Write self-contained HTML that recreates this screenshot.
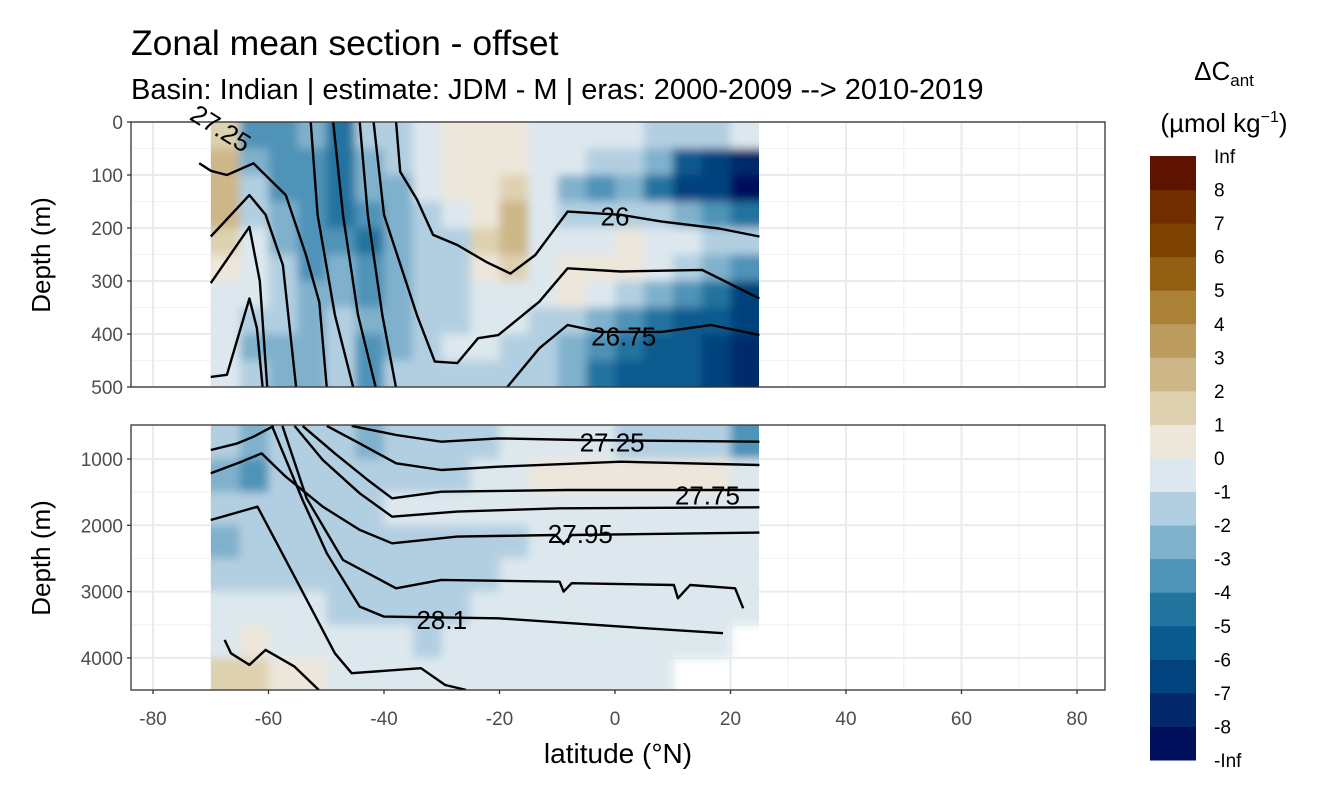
<!DOCTYPE html>
<html><head><meta charset="utf-8"><style>
body{margin:0;background:#fff;font-family:"Liberation Sans",sans-serif}
svg text{font-family:"Liberation Sans","DejaVu Sans",sans-serif}
</style></head><body>
<svg id="chart" width="1344" height="806" viewBox="0 0 1344 806">
<defs>
<filter id="blurT" filterUnits="userSpaceOnUse" x="211" y="122" width="548" height="265"><feGaussianBlur stdDeviation="4.5" edgeMode="duplicate"/></filter>
<filter id="blurB" filterUnits="userSpaceOnUse" x="211" y="425" width="548" height="265"><feGaussianBlur stdDeviation="4.5" edgeMode="duplicate"/></filter>
</defs>
<text x="131" y="55" font-size="35.5" fill="#000">Zonal mean section - offset</text>
<text x="131" y="99" font-size="29" fill="#000">Basin: Indian | estimate: JDM - M | eras: 2000-2009 --&gt; 2010-2019</text>
<g id="top"></g>
<g id="bot"></g>
<g id="xaxis"></g>
<text x="618" y="763" font-size="28" text-anchor="middle">latitude (°N)</text>
<text transform="translate(50,255) rotate(-90)" font-size="26" text-anchor="middle">Depth (m)</text>
<text transform="translate(50,558) rotate(-90)" font-size="26" text-anchor="middle">Depth (m)</text>
<g id="legend">
<text x="1224" y="80" font-size="26" text-anchor="middle">ΔC<tspan font-size="17" dy="6">ant</tspan></text>
<text x="1224" y="132" font-size="26" text-anchor="middle">(µmol kg<tspan font-size="16" dy="-10">−1</tspan><tspan dy="10">)</tspan></text>
</g>
</svg>
<script>
const NS="http://www.w3.org/2000/svg";
const breaks=[-Infinity,-8,-7,-6,-5,-4,-3,-2,-1,0,1,2,3,4,5,6,7,8,Infinity];
const binLabels=["-Inf","-8","-7","-6","-5","-4","-3","-2","-1","0","1","2","3","4","5","6","7","8","Inf"];
const palette=["#020f5c","#03296b","#02427e","#0a5a8f","#23739f","#4f93b8","#80b1cc","#b2cfe1","#dde8ee","#ede6da","#ded1b0","#cdb688","#bc9b5f","#ab8238","#935f12","#7e4300","#712c00","#5e1300"];
const xTicks=[-80,-60,-40,-20,0,20,40,60,80];
const topTicks=[0,100,200,300,400,500];
const botTicks=[1000,2000,3000,4000];
const latCells=[-70,-65,-60,-55,-50,-45,-40,-35,-30,-25,-20,-15,-10,-5,0,5,10,15,20];
const topDepths=[0,50,100,150,200,250,300,350,400,450];
const botDepths=[500,1000,1500,2000,2500,3000,3500,4000];
const topVals=[
[1.5,2.5,2.5,2,1,0.5,-0.5,-1,-0.5,-1],
[-4,-3,-2,-1.5,-1,-0.5,-1,-2,-3,-2],
[-4,-4,-3.5,-3,-2.5,-2,-2,-2,-3,-3],
[-3,-4,-4,-4,-4,-3.5,-3,-3,-3,-2.5],
[-4.5,-5,-5,-5,-4,-3,-2.5,-2,-2,-2],
[-2,-2.5,-3,-4,-4.5,-4,-3.5,-3,-3.5,-3.5],
[-2,-2,-2.5,-3,-3,-3,-2.5,-2.5,-3,-2],
[-0.5,-0.5,-1,-1.5,-1.5,-1.5,-1.5,-1.5,-1.5,-1.5],
[0.5,0.5,0.5,-1,-1.5,-1.5,-1.5,-1.5,-1,-1.5],
[0.5,0.5,0.5,0.5,1.5,0.5,-1,-0.5,-1,-1.5],
[0.5,0.5,1.5,2.5,2.5,1.5,-0.5,-0.5,-1.5,-1.5],
[-0.5,-0.5,-1,-1,-0.5,-0.5,-1,-1.5,-2,-2],
[-0.5,-1,-3,-2,-1,0.5,0.5,-1.5,-2.5,-3],
[-1,-1.5,-3.5,-2,-0.5,0.5,-1,-3,-4,-4.5],
[-1,-2,-2.5,-1.5,0.5,0.5,-2,-3.5,-5,-5.5],
[-1.5,-3,-5,-2,-0.5,-1,-3,-5,-5.5,-5.5],
[-1.5,-5.5,-6.5,-3,-1,-1.5,-4,-5.5,-6,-6],
[-1.5,-6.5,-7,-4,-1.5,-3,-5,-6,-6.5,-6.5],
[-1,-7.5,-8.5,-5,-2,-4,-6.5,-7,-7.5,-7.5]];
const botVals=[
[-2,-3,-2,-2.5,-1.5,-1,-0.5,1.5],
[-2.5,-3.5,-2,-2,-1.5,-1,0.5,1.5],
[-2,-2,-2,-1.5,-1.5,-1,-0.5,0.5],
[-2,-1.5,-1.5,-1.5,-1.5,-1,-0.5,0.5],
[-2,-1.5,-1.5,-1.5,-1.5,-1.5,-0.5,-0.5],
[-2.5,-1.5,-1.5,-1.5,-1.5,-1.5,-0.5,-0.5],
[-2,-1.5,-1,-1.5,-1.5,-1.5,-0.5,-0.5],
[-2,-1.5,-1,-1.5,-1.5,-1.5,-1.5,-0.5],
[-1.5,-1.5,-1,-1.5,-1.5,-1.5,-0.5,-0.5],
[-1.5,-1,-0.5,-1.5,-1.5,-0.5,-0.5,-0.5],
[-1,-0.5,-0.5,-1.5,-0.5,-0.5,-0.5,-0.5],
[-1,0.5,-0.5,-0.5,-0.5,-0.5,-0.5,-0.5],
[-1,0.5,-0.5,-0.5,-0.5,-0.5,-0.5,-0.5],
[-1,0.5,-0.5,-0.5,-0.5,-0.5,-0.5,-0.5],
[-1.5,0.5,-0.5,-0.5,-0.5,-0.5,-0.5,-0.5],
[-1.5,0.5,-0.5,-0.5,-0.5,-0.5,-0.5,-0.5],
[-1.5,0.5,-0.5,-0.5,-0.5,-0.5,-0.5,null],
[-2,0.5,-0.5,-0.5,-0.5,-0.5,-0.5,null],
[-3.5,-0.5,-0.5,-0.5,-0.5,-0.5,null,null]];
const topLines=[
{lat:[-72,-70,-67.2,-62.6,-57.0,-53.5,-51.2,-49.9],dep:[78,92,100,78,138,251,340,502]},
{lat:[-70,-63.3,-60.5,-57.5,-55.2],dep:[216,138,175,270,502]},
{lat:[-70,-63.3,-61.5,-60.2],dep:[304,198,300,502]},
{lat:[-70,-67.2,-63.3,-62.0,-61.0],dep:[481,477,333,389,502]},
{lat:[-52.7,-51.5,-48.5,-45.3],dep:[0,175,364,502]},
{lat:[-48.8,-47.1,-44.5,-41.4],dep:[0,175,364,502]},
{lat:[-44.2,-42.8,-40.3,-37.9],dep:[0,175,364,502]},
{lat:[-41.8,-40.0,-34.3,-31.2,-27.3,-23.7,-20.2,-13.1,-8.2,1.0,15.1,25],dep:[0,175,364,452,455,408,402,339,276,282,279,333]},
{lat:[-37.9,-37.2,-34.3,-31.5,-27.3,-22.3,-18.1,-13.8,-8.2,1.0,8.1,18.0,25],dep:[0,94,146,213,232,264,286,251,169,175,188,201,216]},
{lat:[-18.8,-13.1,-8.2,-2.5,8.1,16.6,25],dep:[502,427,383,396,396,383,402]}];
const botLines=[
{lat:[-70,-65.4,-62.6,-59.1],dep:[864,764,663,500]},
{lat:[-45.6,-37.9,-30.1,-20.2,-6.1,25],dep:[500,638,739,689,714,739]},
{lat:[-49.9,-44.2,-37.9,-30.1,-20.2,1.0,25],dep:[500,764,1065,1166,1116,1040,1090]},
{lat:[-54.1,-48.5,-42.8,-38.6,-30.1,-8.2,25],dep:[500,915,1317,1593,1493,1467,1467]},
{lat:[-55.5,-50.6,-44.2,-38.6,-27.3,-9.6,25],dep:[500,1015,1518,1870,1794,1744,1729]},
{lat:[-70,-64.7,-61.2,-57.0,-50.6,-44.2,-38.6,-27.3,-10.3,-8.9,-7.5,25],dep:[1216,1040,915,1267,1719,2070,2272,2171,2146,2282,2146,2110]},
{lat:[-57.6,-53.4,-47.1,-37.9,-30.1,-9.6,-8.9,-7.5,10.2,10.9,13.0,20.8,22.2],dep:[500,1593,2523,2950,2824,2850,3000,2874,2900,3101,2900,2950,3252]},
{lat:[-59.4,-54.1,-49.9,-44.2,-40.0,-20.2,1.0,18.7],dep:[500,1618,2422,3226,3377,3402,3528,3628]},
{lat:[-70,-61.9,-55.5,-48.5,-45.6,-33.6,-29.4,-25.8],dep:[1920,1719,2774,3930,4231,4156,4408,4483]},
{lat:[-67.6,-66.5,-63.3,-60.5,-55.5,-51.3],dep:[3729,3930,4106,3880,4131,4483]}];
const topLabels=[{t:"26",lat:0,dep:178},{t:"26.75",lat:1.5,dep:405}];
const botLabels=[{t:"27.25",lat:-0.5,dep:750},{t:"27.75",lat:16,dep:1550},{t:"27.95",lat:-6,dep:2130},{t:"28.1",lat:-30,dep:3430}];

const X0=131,X1=1105;
const xs=lat=>615+lat*5.775;
const yTop=d=>122+d*0.53;
const yBot=d=>459+(d-1000)*0.0663;
function mk(tag,attrs,parent){const e=document.createElementNS(NS,tag);for(const k in attrs)e.setAttribute(k,attrs[k]);parent.appendChild(e);return e;}
function colorOf(v){for(let i=0;i<18;i++){if(v>=breaks[i]&&v<breaks[i+1])return palette[i];}return palette[17];}
function panel(g,y0,y1,ys,tickVals,minorVals,depths,cellH,vals,lines,labels,id,filt){
  mk('rect',{x:X0,y:y0,width:X1-X0,height:y1-y0,fill:'#fff'},g);
  for(let v=-70;v<=70;v+=20){mk('line',{x1:xs(v),x2:xs(v),y1:y0,y2:y1,stroke:'#f3f3f3','stroke-width':1.2},g);}
  for(const v of minorVals){mk('line',{x1:X0,x2:X1,y1:ys(v),y2:ys(v),stroke:'#f3f3f3','stroke-width':1.2},g);}
  for(const v of xTicks){mk('line',{x1:xs(v),x2:xs(v),y1:y0,y2:y1,stroke:'#ebebeb','stroke-width':2},g);}
  for(const v of tickVals){mk('line',{x1:X0,x2:X1,y1:ys(v),y2:ys(v),stroke:'#ebebeb','stroke-width':2},g);}
  const clip=mk('clipPath',{id:'c'+id},g);mk('rect',{x:X0,y:y0,width:X1-X0,height:y1-y0},clip);
  const clip2=mk('clipPath',{id:'d'+id},g);mk('rect',{x:211,y:y0,width:548,height:y1-y0},clip2);
  const outer=mk('g',{'clip-path':'url(#d'+id+')'},g);
  const cg=mk('g',{filter:'url(#'+filt+')'},outer);
  
  
  latCells.forEach((lat,i)=>{depths.forEach((d,j)=>{const v=vals[i][j];if(v===null)return;
    const xa=xs(lat)-(i===0?10:0),xb=xs(lat+5)+(i===latCells.length-1?10:0);
    const r=mk('rect',{x:xa,y:ys(d)-(j===0?10:0),width:xb-xa+0.6,height:ys(d+cellH)-ys(d)+0.6+(j===0||j===depths.length-1?10:0),fill:colorOf(v)},cg);
    
    });});
  const lg=mk('g',{'clip-path':'url(#c'+id+')'},g);
  lines.forEach(L=>{const pts=L.lat.map((la,k)=>xs(la).toFixed(1)+','+ys(L.dep[k]).toFixed(1)).join(' ');
    const p=mk('polyline',{points:pts,fill:'none',stroke:'#000','stroke-width':2.4,'stroke-linejoin':'round'},lg);
    
    });
  labels.forEach(l=>{const t=mk('text',{x:xs(l.lat),y:ys(l.dep)+9,'font-size':26,'text-anchor':'middle',fill:'#000'},lg);t.textContent=l.t;
    
    });
  mk('rect',{x:X0,y:y0,width:X1-X0,height:y1-y0,fill:'none',stroke:'#333','stroke-width':1.3},g);
  for(const v of tickVals){mk('line',{x1:X0-4,x2:X0,y1:ys(v),y2:ys(v),stroke:'#333','stroke-width':1.3},g);
    const t=mk('text',{x:X0-8,y:ys(v)+7,'font-size':19,'text-anchor':'end',fill:'#4d4d4d'},g);t.textContent=v;
    
    }
}
panel(document.getElementById('top'),122,387,yTop,topTicks,[50,150,250,350,450],topDepths,50,topVals,topLines,topLabels,'t','blurT');
panel(document.getElementById('bot'),425,690,yBot,botTicks,[1500,2500,3500],botDepths,500,botVals,botLines,botLabels,'b','blurB');
const rl=mk('text',{transform:'translate(216,136) rotate(32)','font-size':26,'text-anchor':'middle'},document.getElementById('top'));
rl.textContent='27.25';


const xa=document.getElementById('xaxis');
for(const v of xTicks){mk('line',{x1:xs(v),x2:xs(v),y1:690,y2:694,stroke:'#333','stroke-width':1.3},xa);
  const t=mk('text',{x:xs(v),y:725,'font-size':19,'text-anchor':'middle',fill:'#4d4d4d'},xa);t.textContent=v;
  
  }
const lgd=document.getElementById('legend');
const bh=(760-156)/18;
palette.forEach((c,i)=>{const r=mk('rect',{x:1150,y:760-(i+1)*bh,width:46,height:bh+0.5,fill:c},lgd);
  
  });
binLabels.forEach((s,i)=>{const t=mk('text',{x:1214,y:760-i*bh+7,'font-size':19,fill:'#000'},lgd);t.textContent=s;
  
  });
</script>
</body></html>
